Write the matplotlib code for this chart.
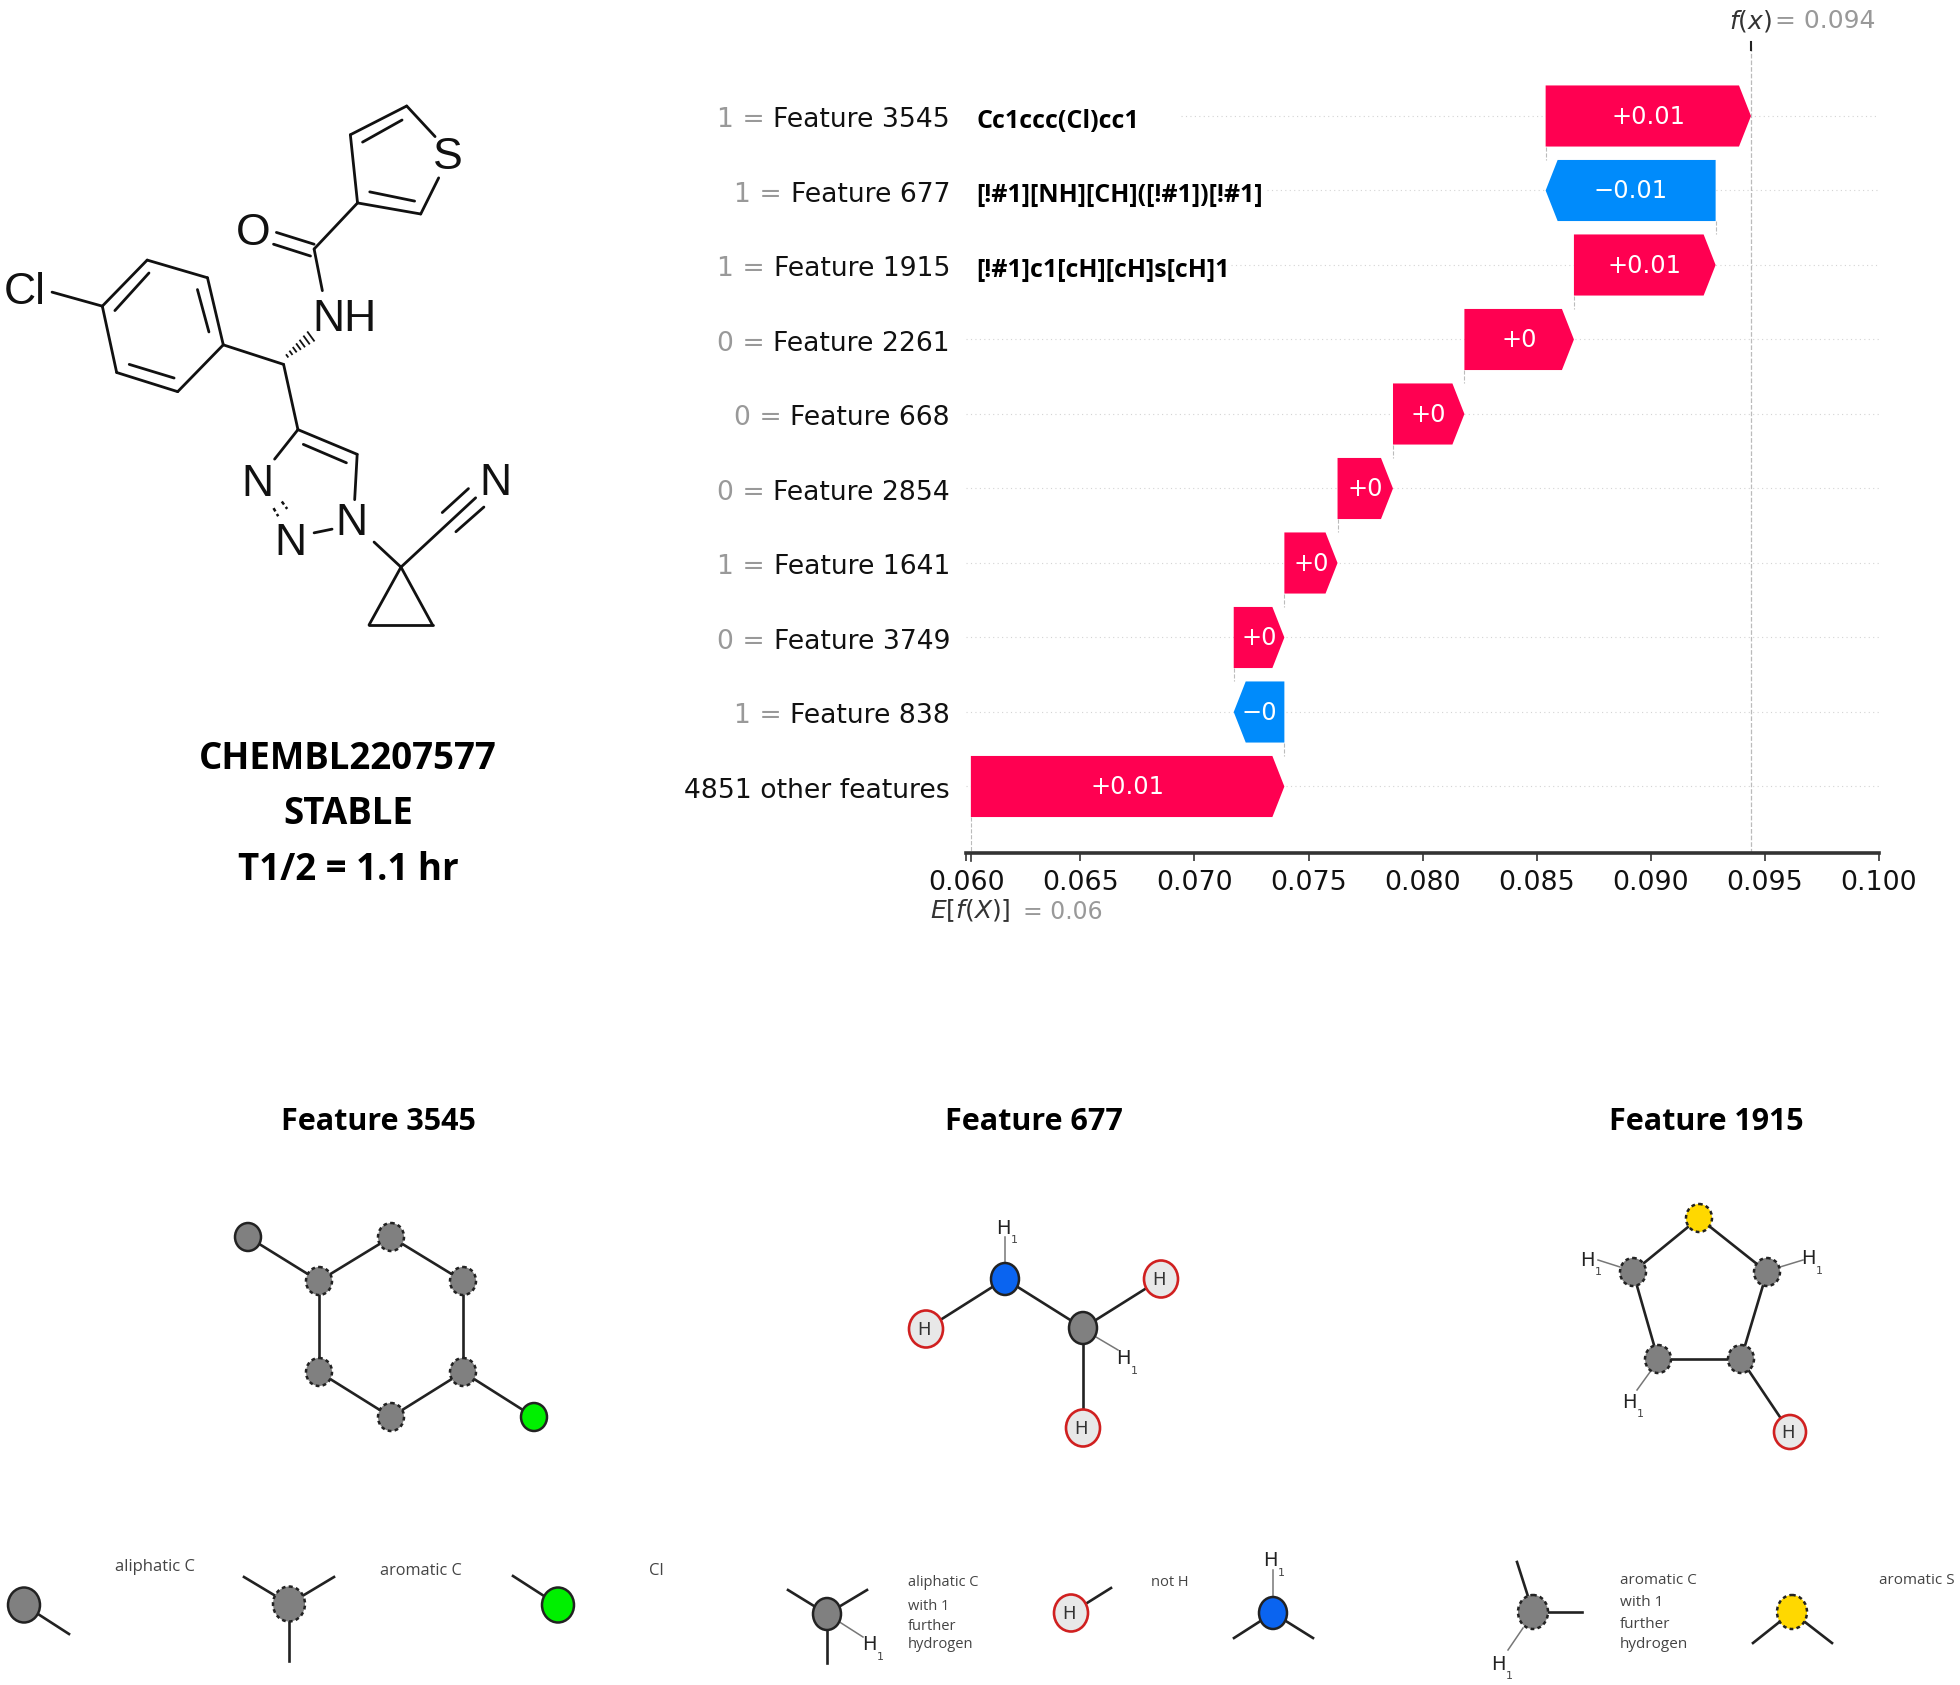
import matplotlib
matplotlib.use("Agg")
import matplotlib.pyplot as plt
from matplotlib.patches import Ellipse

W, H = 1960, 1685
RED = "#ff0051"
BLUE = "#008bfb"
GREY_NODE = "#808080"

# waterfall data, top row first
feature_names = ["Feature 3545", "Feature 677", "Feature 1915", "Feature 2261", "Feature 668",
                 "Feature 2854", "Feature 1641", "Feature 3749", "Feature 838", "4851 other features"]
feature_values = ["1", "1", "1", "0", "0", "0", "1", "0", "1", ""]
shap_values = [0.00900, -0.00745, 0.00621, 0.00480, 0.00313, 0.00243, 0.00233, 0.00222, -0.00222, 0.01374]
bar_labels = ["+0.01", "\u22120.01", "+0.01", "+0", "+0", "+0", "+0", "+0", "\u22120", "+0.01"]
smarts = ["Cc1ccc(Cl)cc1", "[!#1][NH][CH]([!#1])[!#1]", "[!#1]c1[cH][cH]s[cH]1"]
row_line_start = [0.0694, 0.0732, 0.0716, 0.06, 0.06, 0.06, 0.06, 0.06, 0.06, 0.06]
base_value = 0.0602
x_ticks = [0.060, 0.065, 0.070, 0.075, 0.080, 0.085, 0.090, 0.095, 0.100]

title_lines = ["CHEMBL2207577", "STABLE", "T1/2 = 1.1 hr"]
title_y = [759, 814, 870]
feature_titles = ["Feature 3545", "Feature 677", "Feature 1915"]
feature_title_x = [378, 1034, 1706]

# molecule skeleton, in its own drawing units
mol_bonds = [
    [(996, 330), (976, 145)], [(976, 145), (1133, 67)], [(1010, 165), (1120, 105)], [(1133, 67), (1212, 150)],
    [(1222, 262), (1172, 360)], [(1172, 360), (996, 330)], [(1030, 300), (1155, 325)], [(996, 330), (875, 455)],
    [(770, 410), (875, 442)], [(762, 442), (865, 474)], [(875, 455), (898, 568)], [(790, 768), (622, 715)],
    [(622, 715), (578, 533)], [(578, 533), (410, 485)], [(410, 485), (285, 610)], [(285, 610), (325, 790)],
    [(325, 790), (495, 842)], [(495, 842), (622, 715)], [(582, 680), (550, 565)], [(415, 520), (320, 622)],
    [(360, 768), (485, 805)], [(145, 572), (285, 610)], [(790, 768), (830, 945)], [(830, 945), (995, 1012)],
    [(845, 985), (965, 1035)], [(995, 1012), (988, 1135)], [(875, 1225), (925, 1215)], [(830, 945), (765, 1025)],
    [(1042, 1250), (1117, 1318)], [(1117, 1318), (1028, 1475)], [(1028, 1475), (1205, 1475)], [(1205, 1475), (1117, 1318)],
    [(1117, 1318), (1325, 1130)], [(1232, 1170), (1305, 1105)], [(1270, 1222), (1348, 1155)],
]
mol_dashed = [[(762, 1158), (775, 1180)], [(785, 1140), (800, 1160)]]
mol_atoms = ["S", "O", "NH", "Cl", "N", "N", "N", "N"]
mol_atom_xy = [(1248, 207), (705, 414), (960, 647), (70, 574), (718, 1094), (808, 1255), (980, 1200), (1380, 1092)]

# fragment nodes: x, y, rx, ry, kind
nodes = [
    (248, 1237, 13, 14, "aliph"), (319, 1281, 13, 14, "arom"), (391, 1237, 13, 14, "arom"), (463, 1281, 13, 14, "arom"),
    (463, 1372, 13, 14, "arom"), (391, 1417, 13, 14, "arom"), (319, 1372, 13, 14, "arom"), (534, 1417, 13, 14, "cl"),
    (24, 1605, 16, 17.5, "aliph"), (289, 1604, 16, 17.5, "arom"), (558, 1605, 16, 17.5, "cl"),
    (1005, 1279, 14, 16, "n"), (1083, 1328, 14, 16, "aliph"), (926, 1329, 17, 18.5, "h"), (1161, 1279, 17, 18.5, "h"),
    (1083, 1428, 17, 18.5, "h"), (827, 1614, 14, 16, "aliph"), (1071, 1613, 17, 18.5, "h"), (1273, 1613, 14, 16, "n"),
    (1699, 1218, 13, 14, "s"), (1633, 1272, 13, 14, "arom"), (1767, 1272, 13, 14, "arom"), (1658, 1359, 13, 14, "arom"),
    (1741, 1359, 13, 14, "arom"), (1790, 1432, 16, 17, "h"), (1533, 1612, 15, 17, "arom"), (1792, 1612, 15, 17, "s"),
]
frag_bonds = [
    [(248, 1237), (319, 1281)], [(319, 1281), (391, 1237)], [(391, 1237), (463, 1281)], [(463, 1281), (463, 1372)],
    [(463, 1372), (391, 1417)], [(391, 1417), (319, 1372)], [(319, 1372), (319, 1281)], [(463, 1372), (534, 1417)],
    [(24, 1605), (69, 1634)], [(289, 1604), (244, 1577)], [(289, 1604), (334, 1577)], [(289, 1604), (289, 1661)],
    [(558, 1605), (513, 1576)],
    [(1005, 1279), (1083, 1328)], [(1005, 1279), (926, 1329)], [(1083, 1328), (1161, 1279)], [(1083, 1328), (1083, 1428)],
    [(827, 1614), (788, 1590)], [(827, 1614), (867, 1590)], [(827, 1614), (827, 1663)], [(1071, 1613), (1111, 1588)],
    [(1273, 1613), (1234, 1638)], [(1273, 1613), (1313, 1638)],
    [(1699, 1218), (1633, 1272)], [(1699, 1218), (1767, 1272)], [(1633, 1272), (1658, 1359)], [(1767, 1272), (1741, 1359)],
    [(1658, 1359), (1741, 1359)], [(1741, 1359), (1790, 1432)],
    [(1533, 1612), (1517, 1562)], [(1533, 1612), (1582, 1612)], [(1792, 1612), (1753, 1643)], [(1792, 1612), (1832, 1643)],
]
h_bonds = [
    [(1005, 1279), (1005, 1237)], [(1096, 1337), (1118, 1350)], [(827, 1614), (863, 1637)], [(1273, 1613), (1273, 1570)],
    [(1598, 1260), (1620, 1267)], [(1780, 1267), (1803, 1260)], [(1650, 1372), (1637, 1390)], [(1523, 1628), (1508, 1650)],
]
h_label_xy = [(1003, 1228), (1123, 1359), (869, 1645), (1270, 1561), (1587, 1260), (1808, 1259), (1629, 1402), (1498, 1664)]

legend_labels = ["aliphatic C", "aromatic C", "Cl",
                 "aliphatic C", "with 1", "further", "hydrogen", "not H",
                 "aromatic C", "with 1", "further", "hydrogen", "aromatic S"]
legend_xy = [(115, 1567), (380, 1571), (649, 1571),
             (908, 1582), (908, 1606), (908, 1627), (908, 1645), (1151, 1583),
             (1620, 1580), (1620, 1603), (1620, 1625), (1620, 1644), (1879, 1580)]
legend_sizes = [12, 11.7, 12, 10.5, 10.5, 10.5, 10.5, 10.5, 11, 11, 11, 11, 11]

fig = plt.figure(figsize=(W / 100, H / 100), dpi=100)

# pixel axes for everything that is not the waterfall
px = fig.add_axes([0, 0, 1, 1])
px.set_xlim(0, W)
px.set_ylim(H, 0)
px.axis("off")


def mx(x):
    return x * 560 / 1560


def my(y):
    return y * 0.3686 + 81.3


for (a, b) in mol_bonds:
    px.plot([mx(a[0]), mx(b[0])], [my(a[1]), my(b[1])], color="#111111", lw=2.0, solid_capstyle="round")
for (a, b) in mol_dashed:
    px.plot([mx(a[0]), mx(b[0])], [my(a[1]), my(b[1])], color="#111111", lw=1.8, ls=(0, (1.5, 1.2)))
# hashed bond to NH
for f in [0.0, 0.14, 0.28, 0.42, 0.56, 0.72, 0.88]:
    xc = 800 + f * 75
    yc = 745 - f * 60
    w = 3 + f * 13
    px.plot([mx(xc - w * 0.6), mx(xc + w * 0.6)], [my(yc - w * 0.8), my(yc + w * 0.8)], color="#111111", lw=1.3)
for s, (x, y) in zip(mol_atoms, mol_atom_xy):
    px.text(mx(x), my(y), s, fontsize=32, family="Liberation Sans", ha="center", va="center", color="#111111")

for s, y in zip(title_lines, title_y):
    px.text(348, y, s, fontsize=26.4, fontweight="bold", family="Open Sans", ha="center", va="center", color="black")
for s, x in zip(feature_titles, feature_title_x):
    px.text(x, 1122, s, fontsize=22, fontweight="bold", family="Open Sans", ha="center", va="center", color="black")

# fragments
for (a, b) in frag_bonds:
    px.plot([a[0], b[0]], [a[1], b[1]], color="#222222", lw=1.9, zorder=2)
for (a, b) in h_bonds:
    px.plot([a[0], b[0]], [a[1], b[1]], color="#777777", lw=1.1, zorder=2)

node_style = {
    "aliph": (GREY_NODE, "#222222", "-", 1.8),
    "arom": (GREY_NODE, "#222222", (0, (1.5, 1.3)), 1.8),
    "cl": ("#00f000", "#222222", "-", 1.8),
    "n": ("#0a64f0", "#222222", "-", 1.8),
    "s": ("#ffd800", "#222222", (0, (1.5, 1.3)), 1.8),
    "h": ("#e8e8e8", "#d02020", "-", 1.9),
}
for x, y, rx, ry, kind in nodes:
    fc, ec, ls, lw = node_style[kind]
    px.add_patch(Ellipse((x, y), 2 * rx, 2 * ry, facecolor=fc, edgecolor=ec, linestyle=ls, linewidth=lw, zorder=3))
    if kind == "h":
        px.text(x - 2, y + 1, "H", fontsize=13, color="#333333", ha="center", va="center", zorder=4)

for x, y in h_label_xy:
    px.text(x, y, "H", fontsize=14, color="#222222", ha="center", va="center")
    px.text(x + 11, y + 12, "1", fontsize=8, color="#444444", ha="center", va="center")

for s, (x, y), fs in zip(legend_labels, legend_xy, legend_sizes):
    px.text(x, y, s, fontsize=fs, family="Open Sans", color="#444444", ha="left", va="center")

# waterfall
ax = fig.add_axes([966.3 / W, 1 - 853 / H, 912.7 / W, 808 / H])
ax.patch.set_alpha(0)
ax.set_xlim(0.06, 0.10)
ax.set_ylim((853 - 116) / 74.5, (45 - 116) / 74.5)

n = len(shap_values)
ends = [base_value] * (n + 1)
for i in range(n - 1, -1, -1):
    ends[i] = ends[i + 1] + shap_values[i]
fx_value = ends[0]

half = 0.41
head = 12 / 22816
for i in range(n):
    start, stop = ends[i + 1], ends[i]
    v = shap_values[i]
    col = RED if v > 0 else BLUE
    neck = stop - head if v > 0 else stop + head
    ax.fill([start, neck, stop, neck, start], [i - half, i - half, i, i + half, i + half], color=col, lw=0, zorder=3)
    ax.text((start + stop) / 2, i + 0.01, bar_labels[i], color="white", fontsize=17.4, ha="center", va="center", zorder=4)
    ax.plot([row_line_start[i], 0.1], [i, i], color="#d4d4d4", lw=0.8, dashes=(1, 3), zorder=1)
    if i > 0:
        ax.plot([stop, stop], [i - 1 + half, i - half], color="#bbbbbb", lw=0.8, ls="--", zorder=1)

ax.plot([base_value, base_value], [n - 1 + half, ax.get_ylim()[0]], color="#bbbbbb", lw=0.8, ls="--", zorder=1)
ax.axvline(fx_value, color="#bbbbbb", lw=0.9, ls="--", zorder=1)
ax.plot([fx_value, fx_value], [ax.get_ylim()[1] - 0.04, ax.get_ylim()[1] + 0.07], color="#222222", lw=1.5, clip_on=False)
ax.plot([base_value, base_value], [ax.get_ylim()[0], ax.get_ylim()[0] + 0.11], color="#333333", lw=1.2, clip_on=False)

for sp in ["top", "left", "right"]:
    ax.spines[sp].set_visible(False)
ax.spines["bottom"].set_linewidth(2.6)
ax.spines["bottom"].set_color("#333333")
ax.set_yticks([])
ax.set_xticks(x_ticks)
ax.set_xticklabels([f"{t:.3f}" for t in x_ticks], fontsize=19.4, color="#111111")
ax.tick_params(axis="x", length=6, width=1.2, color="#333333", pad=6)

label_x = (950 - 966.3) / 912.7
smarts_x = (976 - 966.3) / 912.7
for i in range(n):
    name = ax.text(label_x, i + 0.055, feature_names[i], transform=ax.get_yaxis_transform(), fontsize=19.2,
                   color="#111111", ha="right", va="center")
    if feature_values[i]:
        ax.annotate(feature_values[i] + " = ", xy=(0, 0), xycoords=name, fontsize=19.2, color="#999999", ha="right", va="bottom")
for i, s in enumerate(smarts):
    ax.text(smarts_x, i + 0.07, s, transform=ax.get_yaxis_transform(), fontsize=18, fontweight="bold",
            family="Open Sans", color="black", ha="left", va="center")

px.text(1729, 21, "$f(x)$", fontsize=18, color="#333333", ha="left", va="center")
px.text(1775, 21, "= 0.094", fontsize=18, color="#999999", ha="left", va="center")
px.text(930, 911, "$E[f(X)]$", fontsize=18, color="#333333", ha="left", va="center")
px.text(1023, 912, "= 0.06", fontsize=17, color="#999999", ha="left", va="center")

fig.savefig("out.png", dpi=100, facecolor="white")
